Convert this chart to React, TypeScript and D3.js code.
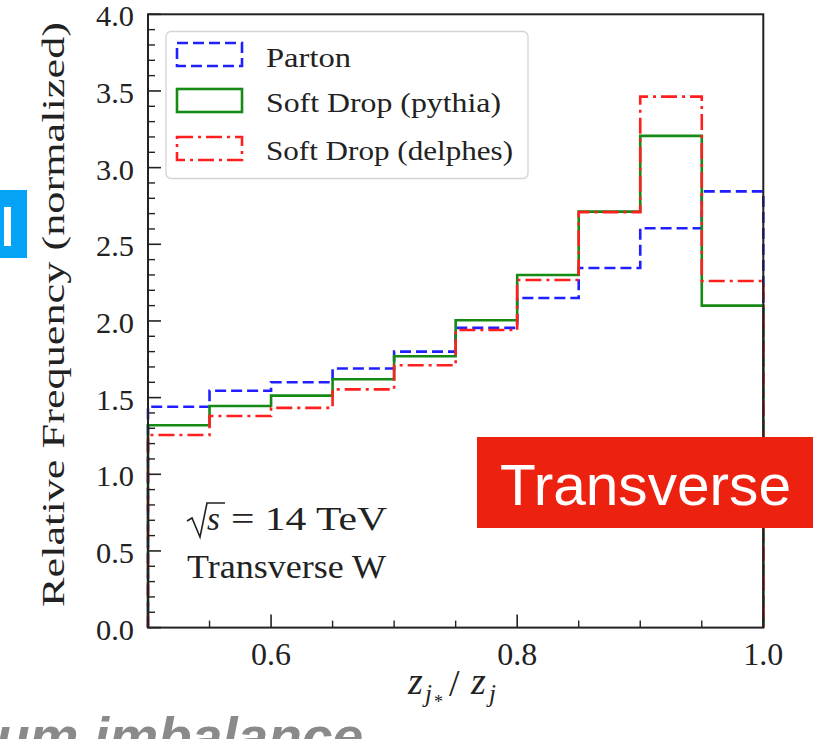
import React from "react";
import * as d3 from "d3";

const binEdges = [0.5, 0.55, 0.6, 0.65, 0.7, 0.75, 0.8, 0.85, 0.9, 0.95, 1.0];
const partonValues = [1.44, 1.545, 1.60, 1.69, 1.80, 1.955, 2.15, 2.345, 2.605, 2.845];
const pythiaValues = [1.32, 1.445, 1.513, 1.62, 1.77, 2.005, 2.30, 2.713, 3.207, 2.10];
const delphesValues = [1.256, 1.38, 1.433, 1.554, 1.711, 1.941, 2.267, 2.71, 3.463, 2.261];
const seriesNames = ["Parton", "Soft Drop (pythia)", "Soft Drop (delphes)"];
const yMajorTicks = [0, 0.5, 1.0, 1.5, 2.0, 2.5, 3.0, 3.5, 4.0];
const yTickLabels = ["0.0", "0.5", "1.0", "1.5", "2.0", "2.5", "3.0", "3.5", "4.0"];
const xMajorTicks = [0.6, 0.8, 1.0];
const xTickLabels = ["0.6", "0.8", "1.0"];
const xMinorTicks = [0.55, 0.65, 0.7, 0.75, 0.85, 0.9, 0.95];
const yMinorTicks = [0.1,0.2,0.3,0.4,0.6,0.7,0.8,0.9,1.1,1.2,1.3,1.4,1.6,1.7,1.8,1.9,2.1,2.2,2.3,2.4,2.6,2.7,2.8,2.9,3.1,3.2,3.3,3.4,3.6,3.7,3.8,3.9];

const W = 813;
const H = 739;
const L = 148, R = 763.3, T = 14.3, B = 627.6;

const serif = "Liberation Serif, Times New Roman, Times, serif";
const sans = "Liberation Sans, Arial, Helvetica, sans-serif";

export default function App() {
  const x = d3.scaleLinear().domain([0.5, 1.0]).range([L, R]);
  const y = d3.scaleLinear().domain([0, 4]).range([B, T]);

  const stepPath = (vals: number[]) => {
    const pts: [number, number][] = [[binEdges[0], 0]];
    vals.forEach((v, i) => {
      pts.push([binEdges[i], v]);
      pts.push([binEdges[i + 1], v]);
    });
    pts.push([binEdges[binEdges.length - 1], 0]);
    return d3.line<[number, number]>().x(d => x(d[0])).y(d => y(d[1]))(pts) || "";
  };

  const styles = [
    { color: "#1f1fff", dash: "11,5", values: partonValues },
    { color: "#158a15", dash: "none", values: pythiaValues },
    { color: "#ff1f1f", dash: "16,5,3,5", values: delphesValues },
  ];

  return (
    <svg width={W} height={H} style={{ position: "absolute", left: 0, top: 0, background: "#fff" }}>
      <rect x={0} y={0} width={W} height={H} fill="#fff" />
      {styles.map((s, i) => (
        <path key={i} d={stepPath(s.values)} fill="none" stroke={s.color} strokeWidth={2.6}
          strokeDasharray={s.dash} strokeLinejoin="miter" />
      ))}
      <rect x={L} y={T} width={R - L} height={B - T} fill="none" stroke="#222" strokeWidth={2} />
      {yMajorTicks.map((t, i) => (
        <g key={"ym" + i}>
          <line x1={L} x2={L + 13} y1={y(t)} y2={y(t)} stroke="#222" strokeWidth={1.6} />
          <text x={134} y={y(t) + 12} textAnchor="end" fontFamily={serif} fontSize={30} fill="#222"
            textLength={38} lengthAdjust="spacingAndGlyphs">{yTickLabels[i]}</text>
        </g>
      ))}
      {yMinorTicks.map((t, i) => (
        <line key={"yn" + i} x1={L} x2={L + 7} y1={y(t)} y2={y(t)} stroke="#222" strokeWidth={1.4} />
      ))}
      {xMajorTicks.map((t, i) => (
        <g key={"xm" + i}>
          <line x1={x(t)} x2={x(t)} y1={B} y2={B - 13} stroke="#222" strokeWidth={1.6} />
          <text x={x(t)} y={665} textAnchor="middle" fontFamily={serif} fontSize={31} fill="#222"
            textLength={40} lengthAdjust="spacingAndGlyphs">{xTickLabels[i]}</text>
        </g>
      ))}
      {xMinorTicks.map((t, i) => (
        <line key={"xn" + i} x1={x(t)} x2={x(t)} y1={B} y2={B - 7} stroke="#222" strokeWidth={1.4} />
      ))}
      <text transform="translate(64,314.5) rotate(-90)" textAnchor="middle" fontFamily={serif} fontSize={32}
        fill="#222" textLength={585} lengthAdjust="spacingAndGlyphs">Relative Frequency (normalized)</text>
      <g fontFamily={serif} fill="#222" fontStyle="italic">
        <text x={408} y={694} fontSize={38}>z</text>
        <text x={425} y={702} fontSize={25}>j</text>
        <text x={434} y={708} fontSize={18} fontStyle="normal">*</text>
        <text x={449} y={696} fontSize={38} fontStyle="normal">/</text>
        <text x={471} y={694} fontSize={38}>z</text>
        <text x={489} y={702} fontSize={25}>j</text>
      </g>
      <rect x={166} y={31.5} width={362} height={147} rx={5} fill="#fff" fillOpacity={0.85} stroke="#d4d4d4" strokeWidth={1.3} />
      {styles.map((s, i) => {
        const tops = [43, 89, 137];
        const bases = [67, 112, 160];
        const lens = [85, 235, 247];
        return (
          <g key={"lg" + i}>
            <rect x={177} y={tops[i]} width={65} height={23} fill="none" stroke={s.color} strokeWidth={2.6}
              strokeDasharray={s.dash} />
            <text x={266} y={bases[i]} fontFamily={serif} fontSize={28} fill="#222"
              textLength={lens[i]} lengthAdjust="spacingAndGlyphs">{seriesNames[i]}</text>
          </g>
        );
      })}
      <path d="M187,521 L192,518 L200,537 L207,503 L225,503" fill="none" stroke="#222" strokeWidth={1.6} />
      <text x={207} y={530} fontFamily={serif} fontSize={33} fontStyle="italic" fill="#222">s</text>
      <text x={231} y={530} fontFamily={serif} fontSize={33} fill="#222" textLength={156} lengthAdjust="spacingAndGlyphs">= 14 TeV</text>
      <text x={187} y={578} fontFamily={serif} fontSize={33} fill="#222" textLength={199} lengthAdjust="spacingAndGlyphs">Transverse W</text>
      <rect x={477} y={437} width={W - 477} height={91} fill="#ec2110" />
      <text x={500} y={505} fontFamily={sans} fontSize={58} fill="#fff" textLength={291} lengthAdjust="spacingAndGlyphs">Transverse</text>
      <rect x={0} y={190} width={27} height={68} fill="#04a3f6" />
      <rect x={4} y={207} width={7} height={39} fill="#fff" />
      <text x={-4} y={755} fontFamily={sans} fontSize={54} fontWeight="bold" fontStyle="italic" fill="#8a8a8a"
        textLength={367} lengthAdjust="spacingAndGlyphs">um imbalance</text>
    </svg>
  );
}
